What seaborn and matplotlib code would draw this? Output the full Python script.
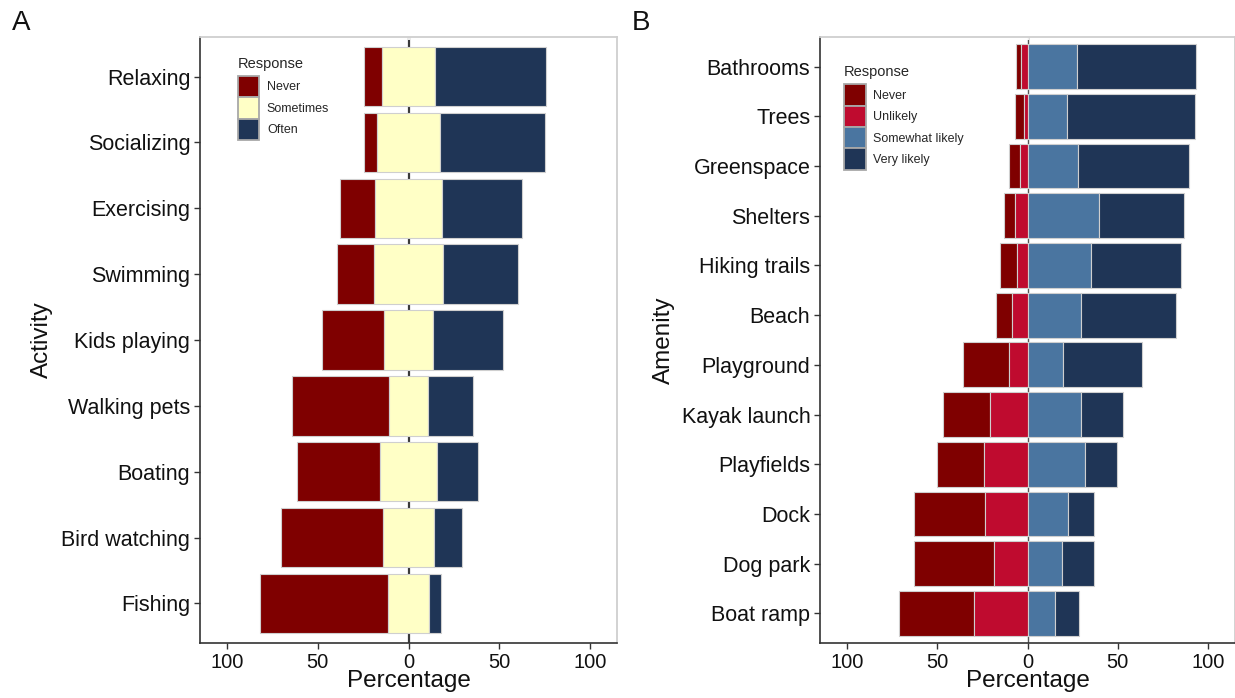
import numpy as np
import pandas as pd
import matplotlib
matplotlib.use("Agg")
import matplotlib.pyplot as plt
import seaborn as sns
from matplotlib.patches import Patch

sns.set_theme(style="ticks")
plt.rcParams['font.family'] = ['Liberation Sans', 'DejaVu Sans']

# ---------------- data ----------------
activities = ["Relaxing", "Socializing", "Exercising", "Swimming", "Kids playing",
              "Walking pets", "Boating", "Bird watching", "Fishing"]
never_a = [10.0, 7.4, 18.9, 20.4, 34.4, 53.3, 46.1, 56.1, 70.9]
sometimes_a = [29.0, 34.2, 37.3, 38.4, 26.6, 21.6, 31.2, 28.6, 22.2]
often_a = [61.3, 58.4, 43.7, 41.3, 38.9, 24.8, 22.6, 15.2, 6.9]

amenities = ["Bathrooms", "Trees", "Greenspace", "Shelters", "Hiking trails", "Beach",
             "Playground", "Kayak launch", "Playfields", "Dock", "Dog park", "Boat ramp"]
never_b = [2.5, 5.2, 6.6, 6.2, 9.1, 8.8, 25.5, 26.4, 26.1, 39.3, 44.7, 41.4]
unlikely_b = [3.7, 1.8, 3.9, 6.8, 5.9, 8.4, 10.5, 20.6, 23.9, 23.7, 18.3, 29.8]
somewhat_b = [27.4, 21.9, 27.9, 39.5, 35.1, 29.6, 19.7, 29.6, 31.6, 22.4, 18.9, 15.2]
very_b = [66.1, 70.8, 61.4, 47.2, 49.7, 52.9, 43.8, 23.1, 18.2, 14.3, 17.8, 13.6]

resp_a = ["Never", "Sometimes", "Often"]
resp_b = ["Never", "Unlikely", "Somewhat likely", "Very likely"]
xticks = [-100, -50, 0, 50, 100]
xticklabels = ["100", "50", "0", "50", "100"]

# ---------------- styles ----------------
C_NEVER = "#7f0000"
C_SOME = "#ffffc6"
C_OFTEN = "#1f3556"
C_UNLIKELY = "#bf0b2f"
C_SWL = "#4a75a0"
C_VERY = "#1f3556"
EDGE = "#cfcfcf"

fig = plt.figure(figsize=(12.35, 6.98), dpi=100)
axA = fig.add_axes([200 / 1235, 55 / 698, 417 / 1235, 606 / 698])
axB = fig.add_axes([820 / 1235, 55 / 698, 415 / 1235, 606 / 698])


def segment(ax, cats, widths, starts, color):
    df = pd.DataFrame({"cat": cats, "w": widths})
    sns.barplot(data=df, x="w", y="cat", order=cats, orient="h", color=color,
                saturation=1, width=0.9, errorbar=None, edgecolor=EDGE,
                linewidth=0.8, left=np.asarray(starts), ax=ax, zorder=2)


# Panel A: diverging stacked bars (Sometimes centred on zero)
na, sa, oa = map(np.array, (never_a, sometimes_a, often_a))
axA.axvline(0, color="#3a3a3a", lw=1.6, zorder=0.5)
segment(axA, activities, na, -sa / 2 - na, C_NEVER)
segment(axA, activities, sa, -sa / 2, C_SOME)
segment(axA, activities, oa, sa / 2, C_OFTEN)

# Panel B
nb, ub, sb, vb = map(np.array, (never_b, unlikely_b, somewhat_b, very_b))
axB.axvline(0, color="#555555", lw=1.0, zorder=0.5)
segment(axB, amenities, nb, -ub - nb, C_NEVER)
segment(axB, amenities, ub, -ub, C_UNLIKELY)
segment(axB, amenities, sb, np.zeros_like(sb), C_SWL)
segment(axB, amenities, vb, sb, C_VERY)

for ax in (axA, axB):
    for p in ax.patches:
        p.set_zorder(2)


def style(ax, n, ylabel, ylab_x):
    ax.set_xlim(-115, 115)
    ax.set_ylim(n - 1 + 0.6, -0.6)
    ax.set_xticks(xticks)
    ax.set_xticklabels(xticklabels, fontsize=14.5, color="#111111")
    ax.tick_params(axis="y", labelsize=15.5, labelcolor="#111111")
    ax.tick_params(axis="both", direction="out", length=4, width=1,
                   color="#333333", pad=3, top=True, right=True,
                   labeltop=False, labelright=False)
    # small white notches on the light top/right border at grid positions
    for t in ax.xaxis.get_major_ticks():
        t.tick2line.set_marker("|")
        t.tick2line.set_markersize(4)
        t.tick2line.set_markeredgewidth(1.3)
        t.tick2line.set_markeredgecolor("white")
    for t in ax.yaxis.get_major_ticks():
        t.tick2line.set_marker("_")
        t.tick2line.set_markersize(4)
        t.tick2line.set_markeredgewidth(1.3)
        t.tick2line.set_markeredgecolor("white")
    ax.set_xlabel("Percentage", fontsize=17.5, color="#111111")
    ax.set_ylabel(ylabel, fontsize=17.5, color="#111111")
    ax.xaxis.set_label_coords(0.5, -0.045)
    ax.yaxis.set_label_coords(ylab_x, 0.5)
    for s in ("left", "bottom"):
        ax.spines[s].set_color("#333333")
        ax.spines[s].set_linewidth(1.2)
    for s in ("top", "right"):
        ax.spines[s].set_visible(True)
        ax.spines[s].set_color("#cfcfcf")
        ax.spines[s].set_linewidth(1.3)


style(axA, len(activities), "Activity", -0.352)
style(axB, len(amenities), "Amenity", -0.35)

legkw = dict(frameon=False, fontsize=9, title_fontsize=10.5, alignment="left",
             handlelength=1.75, handleheight=2.25, labelspacing=0.0,
             handletextpad=0.6, borderpad=0, borderaxespad=0, loc="upper left")
hA = [Patch(facecolor=c, edgecolor="#a8a8a8", linewidth=1.3, label=l)
      for c, l in zip([C_NEVER, C_SOME, C_OFTEN], resp_a)]
legA = axA.legend(handles=hA, title="Response", bbox_to_anchor=(0.09, 0.967), **legkw)
hB = [Patch(facecolor=c, edgecolor="#a8a8a8", linewidth=1.3, label=l)
      for c, l in zip([C_NEVER, C_UNLIKELY, C_SWL, C_VERY], resp_b)]
legB = axB.legend(handles=hB, title="Response", bbox_to_anchor=(0.057, 0.953), **legkw)
for leg in (legA, legB):
    leg._legend_box.sep = 3.5

fig.text(12 / 1235, 1 - 10 / 698, "A", fontsize=20, va="top", ha="left", color="#111111")
fig.text(632 / 1235, 1 - 10 / 698, "B", fontsize=20, va="top", ha="left", color="#111111")

fig.savefig("out.png", dpi=100)
